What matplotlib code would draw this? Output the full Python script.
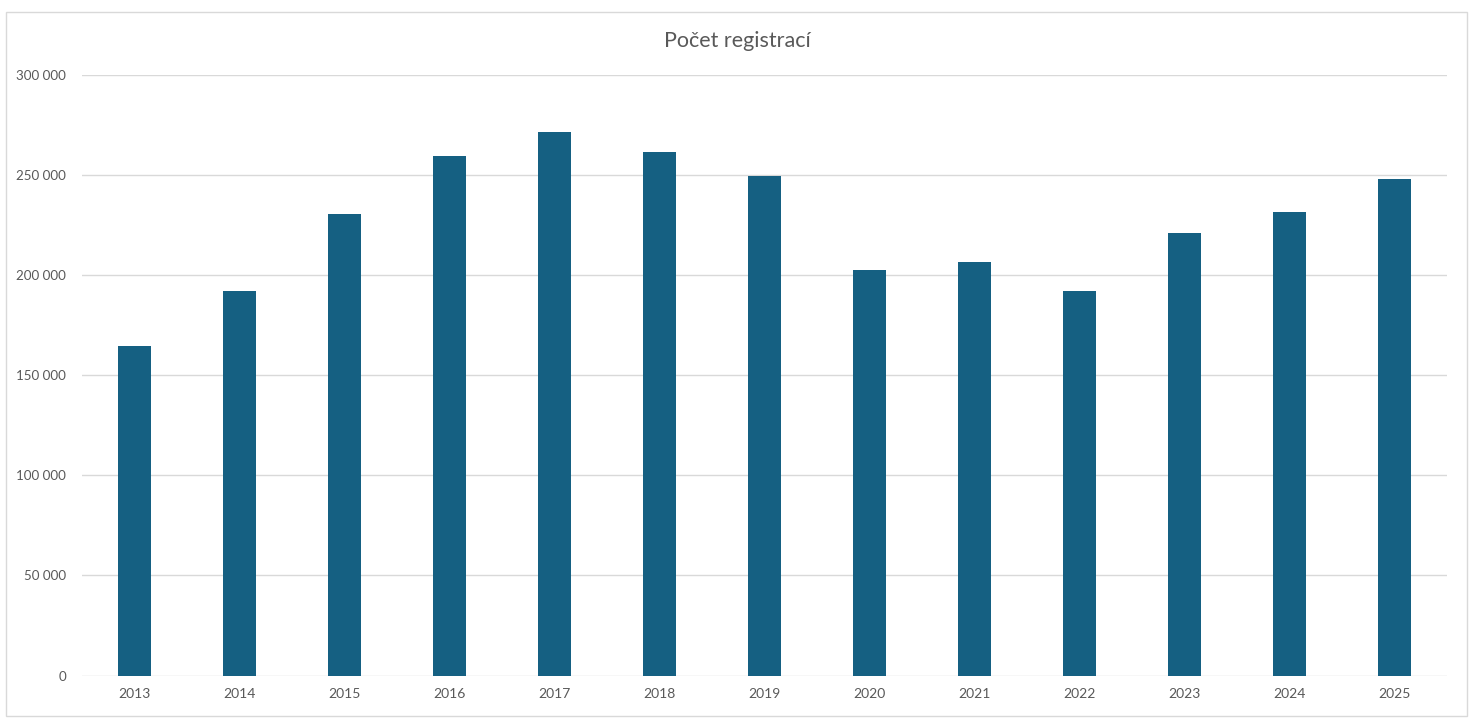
import matplotlib.pyplot as plt
from matplotlib.patches import Rectangle
from matplotlib.ticker import FuncFormatter, MultipleLocator
import numpy as np

plt.rcParams['font.family'] = ['Lato', 'DejaVu Sans']

years = ['2013', '2014', '2015', '2016', '2017', '2018', '2019',
         '2020', '2021', '2022', '2023', '2024', '2025']
registrations = [164400, 191900, 230400, 259400, 271600, 261400, 249400,
                 202400, 206700, 191900, 221200, 231400, 248200]

fig = plt.figure(figsize=(14.74, 7.22), dpi=100)
ax = fig.add_axes([0.0556, 0.0644, 0.9261, 0.8317])

x = np.arange(len(years))
ax.bar(x, registrations, width=0.31, color='#156082', zorder=3)

ax.set_xlim(-0.5, len(years) - 0.5)
ax.set_ylim(0, 300000)
ax.yaxis.set_major_locator(MultipleLocator(50000))
ax.yaxis.set_major_formatter(FuncFormatter(lambda v, p: f'{v:,.0f}'.replace(',', ' ')))
ax.set_xticks(x)
ax.set_xticklabels(years)

ax.grid(axis='y', color='#d9d9d9', linewidth=1, zorder=0)
for s in ax.spines.values():
    s.set_visible(False)
ax.tick_params(axis='both', length=0, labelsize=10, colors='#595959')
ax.tick_params(axis='y', pad=11.5, labelsize=9.6)
ax.tick_params(axis='x', pad=9)

fig.text(0.5, 0.943, 'Počet registrací', ha='center', va='center',
         fontsize=15.5, color='#595959')

# outer chart border
fig.patches.append(Rectangle((6 / 1474, 1 - 716 / 722), 1461 / 1474, 704 / 722,
                             transform=fig.transFigure, fill=False,
                             edgecolor='#d9d9d9', linewidth=1))

fig.savefig('out.png', dpi=100)
